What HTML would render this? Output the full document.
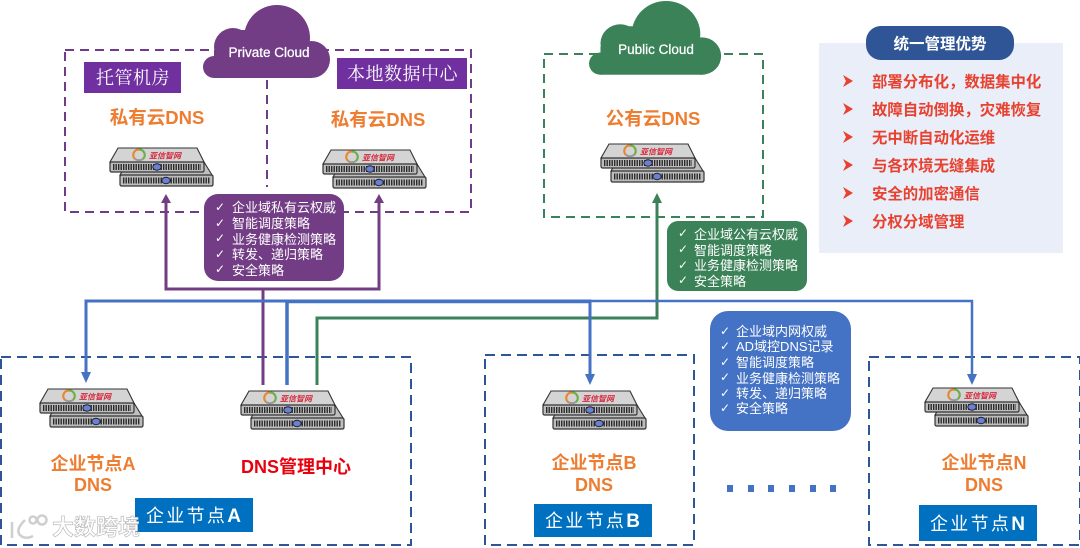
<!DOCTYPE html>
<html lang="zh">
<head>
<meta charset="utf-8">
<style>
html,body{margin:0;padding:0;background:#fff;width:1080px;height:548px;overflow:hidden}
svg{display:block;filter:blur(.35px)}
text{font-family:"Liberation Sans","Noto Sans CJK SC",sans-serif}
.o{fill:#ed7d31;font-weight:700;font-size:18px;text-anchor:middle}
.o2{fill:#ed7d31;font-weight:700;font-size:18.5px;text-anchor:middle}
.w{fill:#fff;font-size:13px}
.c{fill:#fff;font-size:12px;font-family:"DejaVu Sans",sans-serif}
.s{fill:#fff;font-family:"Noto Serif CJK SC",serif;font-size:18px;letter-spacing:.5px}
.e{fill:#fff;font-size:18px;letter-spacing:2.3px;font-family:"Noto Sans CJK SC",sans-serif}
.e tspan{font-weight:700;font-family:"Liberation Sans",sans-serif;font-size:19px}
.r{fill:#e8412f;font-weight:700;font-size:15.4px}
.l{fill:#d62b3f;font-size:8px;font-style:italic;font-weight:700}
.cl{fill:#fff;font-size:13.5px;text-anchor:middle;stroke:#fff;stroke-width:.25}
</style>
</head>
<body>
<svg width="1080" height="548" viewBox="0 0 1080 548" xmlns="http://www.w3.org/2000/svg">
<defs>
<g id="srv">
<polygon points="86,14 94,14 102,27 10,27 13,22" fill="#c0c0c0" stroke="#333" stroke-width="1.1"/>
<rect x="10" y="27" width="93" height="11" rx="1.5" fill="#bdbdbd" stroke="#333" stroke-width="1.2"/>
<line x1="13" y1="32.5" x2="100" y2="32.5" stroke="#2a2a2a" stroke-width="6" stroke-dasharray="1.4 1.1"/>
<ellipse cx="56" cy="32.5" rx="4.2" ry="3.2" fill="#6a80d0" stroke="#223"/>
<polygon points="8,0 87,0 94,14 0,14" fill="#d4d4d4" stroke="#333" stroke-width="1.1"/>
<rect x="0" y="14" width="94" height="10" rx="1.5" fill="#bdbdbd" stroke="#333" stroke-width="1.2"/>
<line x1="3" y1="19" x2="91" y2="19" stroke="#2a2a2a" stroke-width="6" stroke-dasharray="1.4 1.1"/>
<ellipse cx="47" cy="19" rx="4.2" ry="3.2" fill="#6a80d0" stroke="#223"/>
<path d="M25,11 A5.5,5.5 0 0 1 29,1.5" fill="none" stroke="#e8872f" stroke-width="2.2"/>
<path d="M29,1.5 A5.5,5.5 0 0 1 33,11" fill="none" stroke="#6fae45" stroke-width="2.2"/>
<path d="M25,11 Q29,13.5 33,11" fill="none" stroke="#999" stroke-width="2"/>
</g>
<g id="cloud">
<circle cx="75" cy="33" r="33"/>
<circle cx="31" cy="42" r="19"/>
<circle cx="109.500" cy="54.500" r="18.500"/>
<circle cx="12" cy="62" r="11"/>
<rect x="12" y="45" width="98" height="28"/>
<rect x="35" y="25" width="60" height="30"/>
</g>
<path id="b" d="M0,0 L10,6 L0,12 L3,6 Z" fill="#e8412f"/>
</defs>

<!-- right panel -->
<rect x="819" y="43" width="244" height="210" fill="#e9eef8"/>
<rect x="866" y="26" width="148" height="34" rx="15" fill="#2f5597"/>
<text x="940" y="49" fill="#fff" font-size="15.500" font-weight="700" text-anchor="middle">统一管理优势</text>
<use href="#b" x="843" y="75"/><text class="r" x="872" y="87">部署分布化，数据集中化</text>
<use href="#b" x="843" y="103"/><text class="r" x="872" y="115">故障自动倒换，灾难恢复</text>
<use href="#b" x="843" y="131"/><text class="r" x="872" y="143">无中断自动化运维</text>
<use href="#b" x="843" y="159"/><text class="r" x="872" y="171">与各环境无缝集成</text>
<use href="#b" x="843" y="187"/><text class="r" x="872" y="199">安全的加密通信</text>
<use href="#b" x="843" y="215"/><text class="r" x="872" y="227">分权分域管理</text>

<!-- dashed boxes -->
<rect x="65" y="50" width="406" height="162" fill="none" stroke="#6f3c8a" stroke-width="2" stroke-dasharray="9 6"/>
<line x1="267" y1="80" x2="267" y2="187" stroke="#6f3c8a" stroke-width="2" stroke-dasharray="9 6"/>
<rect x="544" y="54" width="219" height="163" fill="none" stroke="#3b8258" stroke-width="2" stroke-dasharray="9 6"/>
<rect x="1" y="357" width="410" height="188" fill="none" stroke="#2f5597" stroke-width="2" stroke-dasharray="10 6"/>
<rect x="485" y="355" width="209" height="190" fill="none" stroke="#2f5597" stroke-width="2" stroke-dasharray="10 6"/>
<rect x="869" y="357" width="211" height="188" fill="none" stroke="#2f5597" stroke-width="2" stroke-dasharray="10 6"/>

<!-- clouds -->
<g fill="#723d85" transform="translate(202,5)"><use href="#cloud"/></g>
<text class="cl" x="269" y="57">Private Cloud</text>
<g fill="#3b8258" transform="translate(588,1) scale(1.04,1.01)"><use href="#cloud"/></g>
<text class="cl" x="656" y="54">Public Cloud</text>

<!-- purple labels -->
<rect x="84" y="62" width="97" height="31" fill="#7030a0"/>
<text class="s" x="96" y="84">托管机房</text>
<rect x="337" y="58" width="130" height="31" fill="#7030a0"/>
<text class="s" x="347" y="80">本地数据中心</text>

<text class="o2" x="157" y="124">私有云DNS</text>
<text class="o2" x="378" y="126">私有云DNS</text>
<text class="o2" x="653" y="125">公有云DNS</text>

<!-- servers -->
<g transform="translate(110,148)"><use href="#srv"/><text class="l" x="39" y="10.500">亚信智网</text></g>
<g transform="translate(323,150)"><use href="#srv"/><text class="l" x="39" y="10.500">亚信智网</text></g>
<g transform="translate(601,144)"><use href="#srv"/><text class="l" x="39" y="10.500">亚信智网</text></g>
<g transform="translate(40,389)"><use href="#srv"/><text class="l" x="39" y="10.500">亚信智网</text></g>
<g transform="translate(241,391)"><use href="#srv"/><text class="l" x="39" y="10.500">亚信智网</text></g>
<g transform="translate(543,391)"><use href="#srv"/><text class="l" x="39" y="10.500">亚信智网</text></g>
<g transform="translate(925,388)"><use href="#srv"/><text class="l" x="39" y="10.500">亚信智网</text></g>

<!-- connectors -->
<path d="M166,200 V289 H379 V200 M263,289 V385" fill="none" stroke="#723d85" stroke-width="3"/>
<polygon points="166,194 161,203 171,203" fill="#723d85"/>
<polygon points="379,194 374,203 384,203" fill="#723d85"/>
<path d="M317,385 V318 H657 V200" fill="none" stroke="#3b8258" stroke-width="3"/>
<polygon points="657,193 652,203 662,203" fill="#3b8258"/>
<path d="M86,375 V301 H590 V375" fill="none" stroke="#4472c4" stroke-width="3"/>
<path d="M287,385 V301.500 H590" fill="none" stroke="#4472c4" stroke-width="3.500"/>
<path d="M590,301 H972 V375" fill="none" stroke="#4472c4" stroke-width="2.500"/>
<polygon points="86,383 81,372 91,372" fill="#4472c4"/>
<polygon points="590,385 585,374 595,374" fill="#4472c4"/>
<polygon points="972,385 967,374 977,374" fill="#4472c4"/>

<!-- info boxes -->
<rect x="204" y="194" width="140" height="87" rx="14" fill="#723d85"/>
<g>
<text class="c" x="215" y="211">✓</text><text class="w" x="232" y="212">企业域私有云权威</text>
<text class="c" x="215" y="227">✓</text><text class="w" x="232" y="228">智能调度策略</text>
<text class="c" x="215" y="242">✓</text><text class="w" x="232" y="244">业务健康检测策略</text>
<text class="c" x="215" y="258">✓</text><text class="w" x="232" y="259">转发、递归策略</text>
<text class="c" x="215" y="273">✓</text><text class="w" x="232" y="275">安全策略</text>
</g>
<rect x="667" y="221" width="140" height="70" rx="11" fill="#3b8258"/>
<g>
<text class="c" x="678" y="237">✓</text><text class="w" x="694" y="239">企业域公有云权威</text>
<text class="c" x="678" y="253">✓</text><text class="w" x="694" y="255">智能调度策略</text>
<text class="c" x="678" y="269">✓</text><text class="w" x="694" y="270">业务健康检测策略</text>
<text class="c" x="678" y="284">✓</text><text class="w" x="694" y="286">安全策略</text>
</g>
<rect x="710" y="311" width="141" height="120" rx="18" fill="#4472c4"/>
<g>
<text class="c" x="720" y="335">✓</text><text class="w" x="736" y="336">企业域内网权威</text>
<text class="c" x="720" y="350">✓</text><text class="w" x="736" y="351">AD域控DNS记录</text>
<text class="c" x="720" y="366">✓</text><text class="w" x="736" y="367">智能调度策略</text>
<text class="c" x="720" y="381">✓</text><text class="w" x="736" y="383">业务健康检测策略</text>
<text class="c" x="720" y="397">✓</text><text class="w" x="736" y="398">转发、递归策略</text>
<text class="c" x="720" y="412">✓</text><text class="w" x="736" y="413">安全策略</text>
</g>

<!-- node labels -->
<text class="o" x="93" y="470">企业节点A</text>
<text class="o" x="93" y="491">DNS</text>
<text x="296" y="473" fill="#e8000d" font-size="18" font-weight="700" text-anchor="middle">DNS管理中心</text>
<text class="o" x="594" y="469">企业节点B</text>
<text class="o" x="594" y="491">DNS</text>
<text class="o" x="984" y="469">企业节点N</text>
<text class="o" x="984" y="491">DNS</text>

<rect x="135" y="498" width="118" height="34" fill="#0070c0"/>
<text class="e" x="146" y="522">企业节点<tspan>A</tspan></text>
<rect x="534" y="504" width="118" height="33" fill="#0070c0"/>
<text class="e" x="545" y="527">企业节点<tspan>B</tspan></text>
<rect x="919" y="505" width="118" height="36" fill="#0070c0"/>
<text class="e" x="930" y="530">企业节点<tspan>N</tspan></text>

<!-- dots -->
<g fill="#4472c4">
<rect x="727" y="485" width="6" height="7"/>
<rect x="748" y="485" width="6" height="7"/>
<rect x="768" y="485" width="6" height="7"/>
<rect x="789" y="485" width="6" height="7"/>
<rect x="810" y="485" width="6" height="7"/>
<rect x="830" y="485" width="6" height="7"/>
</g>

<!-- watermark -->
<g fill="none" stroke="#cfcfcf" stroke-width="2.500">
<path d="M12,522 V538 M25,520 Q15,530 20,535 Q25,540 33,536"/>
<circle cx="33" cy="520" r="3.500"/><circle cx="42" cy="520" r="4.500"/>
</g>
<text x="52" y="535" fill="#fff" stroke="#bdbdbd" stroke-width=".7" font-size="22" font-weight="700">大数跨境</text>
</svg>
</body>
</html>
